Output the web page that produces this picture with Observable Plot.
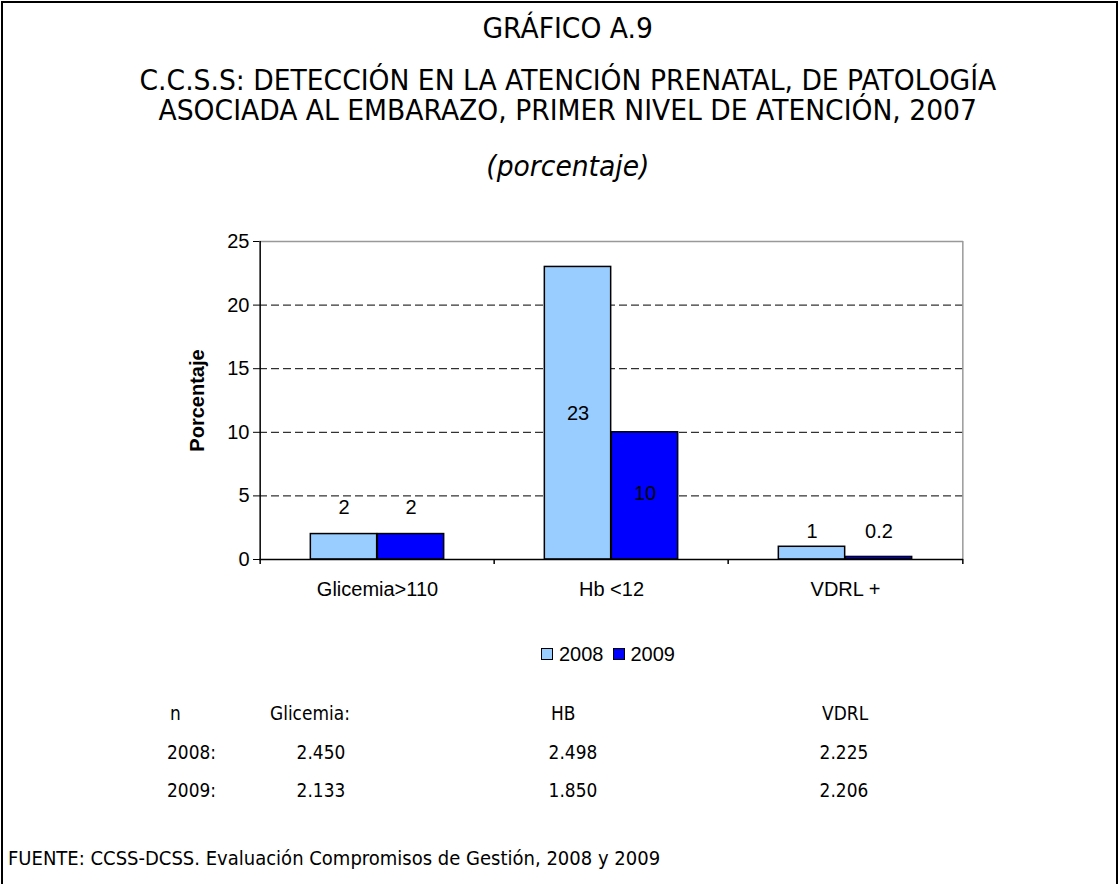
<!DOCTYPE html>
<html>
<head>
<meta charset="utf-8">
<script src="https://cdn.jsdelivr.net/npm/d3@7"></script>
<script src="https://cdn.jsdelivr.net/npm/@observablehq/plot@0.6"></script>
<style>
  html, body { margin: 0; padding: 0; background: #fff; }
  #page { position: relative; width: 1119px; height: 884px; overflow: hidden; background: #fff; }
  #border { position: absolute; left: 1px; top: 1px; width: 1117px; height: 900px; border: 2px solid #000; box-sizing: border-box; }
  .t { position: absolute; font-family: "DejaVu Sans", Verdana, sans-serif; color: #000; white-space: nowrap; }
  .ctr { left: 0; width: 1136px; text-align: center; }
  .ctr span { display: inline-block; transform: scaleX(0.95); transform-origin: center; }
  .a { position: absolute; font-family: "DejaVu Sans", Verdana, sans-serif; font-size: 20px; line-height: 24px; color: #000; white-space: nowrap; }
  .a span { display: inline-block; transform: scaleX(0.85); }
  #legend { position: absolute; left: 541px; top: 642px; font-family: "Liberation Sans", Arial, sans-serif; font-size: 20px; line-height: 24px; display: flex; align-items: center; }
  .sw { display: inline-block; width: 10px; height: 10px; border: 1.5px solid #000; margin-right: 6px; }
  #chart { position: absolute; left: 0; top: 200px; }
</style>
</head>
<body>
<div id="page">
  <div id="border"></div>
  <div class="t ctr" style="top:12px;font-size:28px;line-height:34px;"><span>GRÁFICO A.9</span></div>
  <div class="t ctr" style="top:66px;font-size:28px;line-height:30px;"><span>C.C.S.S: DETECCIÓN EN LA ATENCIÓN PRENATAL, DE PATOLOGÍA</span><br><span>ASOCIADA AL EMBARAZO, PRIMER NIVEL DE ATENCIÓN, 2007</span></div>
  <div class="t ctr" style="top:150px;font-size:28px;line-height:34px;font-style:italic;"><span>(porcentaje)</span></div>
  <div id="chart"></div>
  <div id="legend"></div>
  <div id="table"></div>
  <div class="t" style="left:8px;top:846px;font-size:20px;line-height:24px;"><span style="display:inline-block;transform:scaleX(0.9);transform-origin:left;">FUENTE: CCSS-DCSS. Evaluación Compromisos de Gestión, 2008 y 2009</span></div>
</div>
<script>
// ---- data ----
const categories = ["Glicemia>110", "Hb <12", "VDRL +"];
const years = ["2008", "2009"];
const values2008 = [2, 23, 1];
const values2009 = [2, 10, 0.2];
const labels2008 = ["2", "23", "1"];
const labels2009 = ["2", "10", "0.2"];
const yTicks = [0, 5, 10, 15, 20, 25];
const gridValues = [5, 10, 15, 20];
const nHeader = ["n", "Glicemia:", "HB", "VDRL"];
const nRowLabels = ["2008:", "2009:"];
const n2008 = ["2.450", "2.498", "2.225"];
const n2009 = ["2.133", "1.850", "2.206"];
const colors = {"2008": "#99CCFF", "2009": "#0000FF"};

// ---- table of bars ----
const rows = [];
categories.forEach((c, i) => {
  rows.push({cat: c, year: "2008", value: values2008[i], label: labels2008[i]});
  rows.push({cat: c, year: "2009", value: values2009[i], label: labels2009[i]});
});
const catMax = {};
categories.forEach((c, i) => catMax[c] = Math.max(values2008[i], values2009[i]));

// ---- layout ----
const W = 1119, H = 420;
const mL = 259, mR = 156, mT = 41, mB = 61;
const bw = (W - mL - mR) / categories.length;
const barW = 67;
const gap = (bw - 2 * barW) / 2;
const off = bw / 2 - gap - barW / 2;
const labelLift = {"Glicemia>110": 26, "VDRL +": 15};

const byYear = y => rows.filter(d => d.year === y);
const inside = d => d.value >= 5;

const chart = Plot.plot({
  width: W, height: H,
  marginLeft: mL, marginRight: mR, marginTop: mT, marginBottom: mB,
  style: {fontFamily: "'Liberation Sans', Arial, sans-serif", fontSize: "20px", color: "#000", background: "transparent"},
  x: {type: "band", domain: categories, padding: 0, label: null},
  y: {domain: [0, 25], label: null},
  marks: [
    Plot.ruleY(gridValues, {stroke: "#000", strokeWidth: 1, strokeDasharray: "8,4"}),
    Plot.barY(byYear("2008"), {x: "cat", y: "value", fill: colors["2008"], stroke: "#000", strokeWidth: 1.5, insetLeft: gap, insetRight: gap + barW}),
    Plot.barY(byYear("2009"), {x: "cat", y: "value", fill: colors["2009"], stroke: "#000", strokeWidth: 1.5, insetLeft: gap + barW, insetRight: gap}),
    Plot.ruleY([25], {stroke: "#999", strokeWidth: 1.5}),
    Plot.ruleX([categories[categories.length - 1]], {dx: bw / 2, y1: 0, y2: 25, stroke: "#999", strokeWidth: 1.5}),
    Plot.ruleY([0], {stroke: "#000", strokeWidth: 1.5}),
    Plot.ruleX([categories[0]], {dx: -bw / 2, y1: -0.4, y2: 25, stroke: "#000", strokeWidth: 1.5}),
    Plot.ruleX(categories.slice(1), {dx: -bw / 2, y1: -0.4, y2: 0, stroke: "#000", strokeWidth: 1.5}),
    Plot.ruleX([categories[categories.length - 1]], {dx: bw / 2, y1: -0.4, y2: 0, stroke: "#000", strokeWidth: 1.5}),
    // labels inside bars
    Plot.text(byYear("2008").filter(inside), {x: "cat", y: d => d.value / 2, text: "label", dx: -off, fontSize: 20}),
    Plot.text(byYear("2009").filter(inside), {x: "cat", y: d => d.value / 2, text: "label", dx: off, dy: -2, fontSize: 20}),
    // labels above small bars
    ...categories.filter(c => catMax[c] < 5).flatMap(c => [
      Plot.text(byYear("2008").filter(d => d.cat === c), {x: "cat", y: d => catMax[d.cat], text: "label", dx: -off, dy: -labelLift[c], fontSize: 20}),
      Plot.text(byYear("2009").filter(d => d.cat === c), {x: "cat", y: d => catMax[d.cat], text: "label", dx: off, dy: -labelLift[c], fontSize: 20})
    ]),
    Plot.axisY({ticks: yTicks, tickSize: 6, tickPadding: 4, tickFormat: d => String(d), fontSize: 20, label: null}),
    Plot.axisX({tickSize: 0, tickPadding: 22, fontSize: 20, label: null}),
    Plot.text(["Porcentaje"], {frameAnchor: "left", textAnchor: "middle", rotate: -90, dx: -62, fontWeight: "bold", fontSize: 20})
  ]
});
document.getElementById("chart").appendChild(chart);

// ---- legend ----
const leg = document.getElementById("legend");
years.forEach((y, i) => {
  const sw = document.createElement("span");
  sw.className = "sw";
  sw.style.background = colors[y];
  const lb = document.createElement("span");
  lb.textContent = y;
  lb.style.marginRight = i === 0 ? "9px" : "0";
  leg.appendChild(sw); leg.appendChild(lb);
});

// ---- n table ----
const tbl = document.getElementById("table");
function put(text, x, y, align) {
  const d = document.createElement("div");
  d.className = "a";
  const s = document.createElement("span");
  s.textContent = text;
  d.appendChild(s);
  d.style.top = (y - 12) + "px";
  if (align === "right") {
    d.style.left = (x - 200) + "px"; d.style.width = "200px"; d.style.textAlign = "right";
    s.style.transformOrigin = "right";
  } else {
    d.style.left = x + "px";
    s.style.transformOrigin = "left";
  }
  tbl.appendChild(d);
}
const rowY = [713, 752, 790];
put(nHeader[0], 170, rowY[0]);
put(nHeader[1], 270, rowY[0]);
put(nHeader[2], 551, rowY[0]);
put(nHeader[3], 868, rowY[0], "right");
const rights = [345, 597, 868];
[n2008, n2009].forEach((vals, r) => {
  put(nRowLabels[r], 167, rowY[r + 1]);
  vals.forEach((v, j) => put(v, rights[j], rowY[r + 1], "right"));
});
</script>
</body>
</html>
